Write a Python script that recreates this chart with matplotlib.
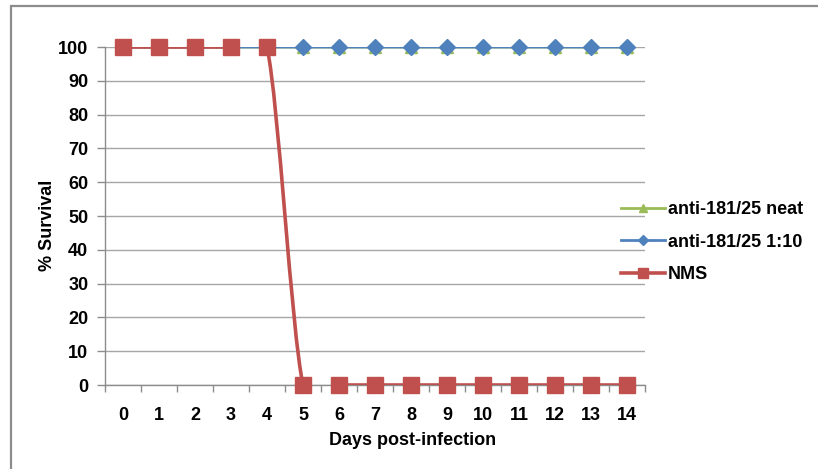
import numpy as np
import matplotlib.pyplot as plt
from matplotlib.path import Path
from matplotlib.patches import PathPatch, Rectangle
from matplotlib.lines import Line2D

plt.rcParams['font.family'] = ['Liberation Sans', 'DejaVu Sans']
plt.rcParams['font.weight'] = 'bold'

days = list(range(15))
neat = [100] * 15
dilute = [100] * 15
nms = [100, 100, 100, 100, 100, 0, 0, 0, 0, 0, 0, 0, 0, 0, 0]

series = [
    ('anti-181/25 neat', neat, '#9BBB59', '^', 9, 2.0),
    ('anti-181/25 1:10', dilute, '#4F81BD', 'D', 8, 2.0),
    ('NMS', nms, '#C0504D', 's', 11, 2.6),
]


def smooth_path(x, y):
    # Bezier curve through the points, Catmull-Rom style control points
    pts = np.column_stack([x, y]).astype(float)
    n = len(pts)
    verts = [pts[0]]
    codes = [Path.MOVETO]
    for i in range(n - 1):
        p0 = pts[max(i - 1, 0)]
        p1 = pts[i]
        p2 = pts[i + 1]
        p3 = pts[min(i + 2, n - 1)]
        c1 = p1 + (p2 - p0) / 6
        c2 = p2 - (p3 - p1) / 6
        verts += [c1, c2, p2]
        codes += [Path.CURVE4] * 3
    return Path(verts, codes)


fig = plt.figure(figsize=(8.18, 4.69), dpi=100)
ax = fig.add_axes([105 / 818, 84 / 469, 540 / 818, 338 / 469])

# chart border
fig.patches.append(Rectangle((11 / 818, -0.05), 1.2, 1.05 - 6 / 469,
                             transform=fig.transFigure, fill=False,
                             edgecolor='#8c8c8c', linewidth=1.6))

handles = []
for z, (name, vals, color, marker, ms, lw) in enumerate(series):
    patch = PathPatch(smooth_path(days, vals), facecolor='none',
                      edgecolor=color, linewidth=lw, zorder=3 + z)
    ax.add_patch(patch)
    ax.plot(days, vals, linestyle='none', marker=marker, markersize=ms,
            color=color, markeredgecolor=color, clip_on=False, zorder=3.5 + z)
    handles.append(Line2D([], [], color=color, linewidth=lw, marker=marker,
                          markersize=ms * 0.7))

ax.set_xlim(-0.5, 14.5)
ax.set_ylim(0, 100)
ax.set_yticks(range(0, 101, 10))
ax.set_xticks(days)
ax.set_xticks(np.arange(-0.5, 15, 1), minor=True)
ax.tick_params(axis='x', which='major', length=0, pad=16, labelsize=13)
ax.tick_params(axis='x', which='minor', length=5, direction='out',
               color='#8c8c8c', width=1)
ax.tick_params(axis='y', length=6, direction='out', color='#8c8c8c',
               width=1, pad=6, labelsize=13)

ax.grid(axis='y', color='#a6a6a6', linewidth=1)
ax.set_axisbelow(True)
for side in ['top', 'right']:
    ax.spines[side].set_visible(False)
for side in ['left', 'bottom']:
    ax.spines[side].set_color('#8c8c8c')
    ax.spines[side].set_linewidth(1)

ax.set_xlabel('Days post-infection', fontsize=13, fontweight='bold')
ax.set_ylabel('% Survival', fontsize=13, fontweight='bold')
ax.xaxis.set_label_coords(0.57, -0.163)
ax.yaxis.set_label_coords(-0.107, 0.473)
ax.xaxis.label.set_va('center')
ax.yaxis.label.set_va('center')

fig.legend(handles=handles, labels=[s[0] for s in series], loc='upper left',
           bbox_to_anchor=(614 / 818, 1 - 194 / 469), frameon=False,
           fontsize=13, handlelength=2.4, handletextpad=0.2,
           labelspacing=0.85, borderaxespad=0)

fig.savefig('out.png', dpi=100)
